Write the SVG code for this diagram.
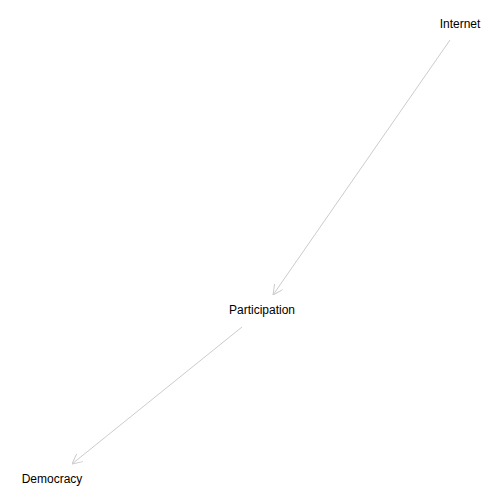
<svg xmlns="http://www.w3.org/2000/svg" width="504" height="504" viewBox="0 0 504 504">
<style>
.lbl{font-family:"Liberation Sans",Arial,sans-serif;font-size:12px;fill:#000;text-anchor:middle;dominant-baseline:central}
.edge{stroke:#cccccc;stroke-width:1;fill:none;marker-end:url(#arr)}
</style>
<defs>
<marker id="arr" viewBox="0 0 10 10" refX="10" refY="5" markerWidth="10" markerHeight="10" markerUnits="userSpaceOnUse" orient="auto">
<path d="M0,0 L10,5 L0,10" fill="none" stroke="#cccccc" stroke-width="1"/>
</marker>
</defs>
<rect width="504" height="504" fill="#ffffff"/>
<g id="connectors">
<line class="edge" x1="450" y1="40" x2="273" y2="295"/>
<line class="edge" x1="242" y1="327" x2="72" y2="464"/>
</g>
<g id="node-internet"><text class="lbl" x="460" y="24">Internet</text></g>
<g id="node-participation"><text class="lbl" x="262" y="310">Participation</text></g>
<g id="node-democracy"><text class="lbl" x="52" y="479">Democracy</text></g>
</svg>
